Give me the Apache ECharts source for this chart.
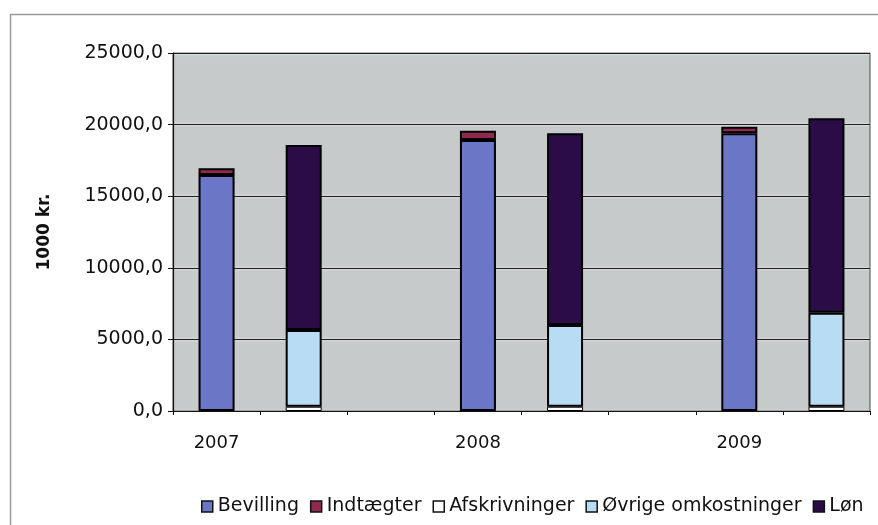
<!DOCTYPE html>
<html>
<head>
<meta charset="utf-8">
<script src="https://cdn.jsdelivr.net/npm/echarts@6/dist/echarts.min.js"></script>
<style>html,body{margin:0;padding:0;background:#fff}#c{width:878px;height:525px}</style>
</head>
<body>
<div id="c"></div>
<script>
// Category slots: income bar, expense bar, spacer per year
var categories = ['2007', '', ' ', '2008', '  ', '   ', '2009', '    '];
var seriesNames = ['Bevilling', 'Indtægter', 'Afskrivninger', 'Øvrige omkostninger', 'Løn'];
var bevilling      = [16480, null, null, 18925, null, null, 19390, null];
var indtaegter     = [470,   null, null, 650,   null, null, 460,   null];
var afskrivninger  = [null,  300,  null, null,  300,  null, null,  300];
var ovrige         = [null,  5360, null, null,  5710, null, null,  6560];
var lon            = [null,  12920, null, null, 13380, null, null, 13580];
var yTicks = [0, 5000, 10000, 15000, 20000, 25000];

var colors = ['#6c76c6', '#8e2a4e', '#ffffff', '#b8dcf3', '#2b0c46'];
var dataSets = [bevilling, indtaegter, afskrivninger, ovrige, lon];

var chart = echarts.init(document.getElementById('c'));
var font = 'DejaVu Sans, Liberation Sans, Arial, sans-serif';
chart.setOption({
  animation: false,
  textStyle: {fontFamily: font},
  graphic: [{
    type: 'rect', shape: {x: 10.5, y: 14.5, width: 900, height: 600},
    style: {fill: 'none', stroke: '#9a9a9a', lineWidth: 1.5}, z: -10
  }],
  grid: {
    left: 173, right: 8, top: 53, bottom: 114,
    show: true, backgroundColor: '#c6caca', borderColor: '#444', borderWidth: 1
  },
  legend: {
    left: 196, top: 492, itemWidth: 11, itemHeight: 11, itemGap: 11,
    icon: 'rect',
    textStyle: {fontSize: 19, color: '#111', fontFamily: font},
    itemStyle: {borderColor: '#111', borderWidth: 1.5},
    data: seriesNames
  },
  xAxis: {
    type: 'category', data: categories,
    axisLine: {lineStyle: {color: '#111', width: 1.2}},
    axisTick: {show: true, length: 4, lineStyle: {color: '#111'}, interval: 0},
    axisLabel: {fontSize: 18, color: '#111', margin: 23, interval: 0}
  },
  yAxis: {
    type: 'value', min: 0, max: 25000, interval: 5000,
    name: '1000 kr.', nameLocation: 'middle', nameGap: 120, nameRotate: 90,
    nameTextStyle: {fontSize: 17, fontWeight: 'bold', color: '#111'},
    axisLine: {show: true, lineStyle: {color: '#111', width: 1.2}},
    axisTick: {show: true, length: 5, lineStyle: {color: '#111'}},
    axisLabel: {
      fontSize: 19, color: '#111', margin: 10,
      formatter: function (v) { return yTicks.indexOf(v) >= 0 ? v.toFixed(1).replace('.', ',') : ''; }
    },
    splitLine: {lineStyle: {color: '#222', width: 1.2, shadowColor: '#ffffff', shadowBlur: 3}}
  },
  series: seriesNames.map(function (n, i) {
    return {
      name: n, type: 'bar', stack: 'total', barWidth: 36,
      data: dataSets[i],
      itemStyle: {color: colors[i], borderColor: '#000', borderWidth: i === 2 ? 1 : 2}
    };
  })
});
</script>
</body>
</html>
